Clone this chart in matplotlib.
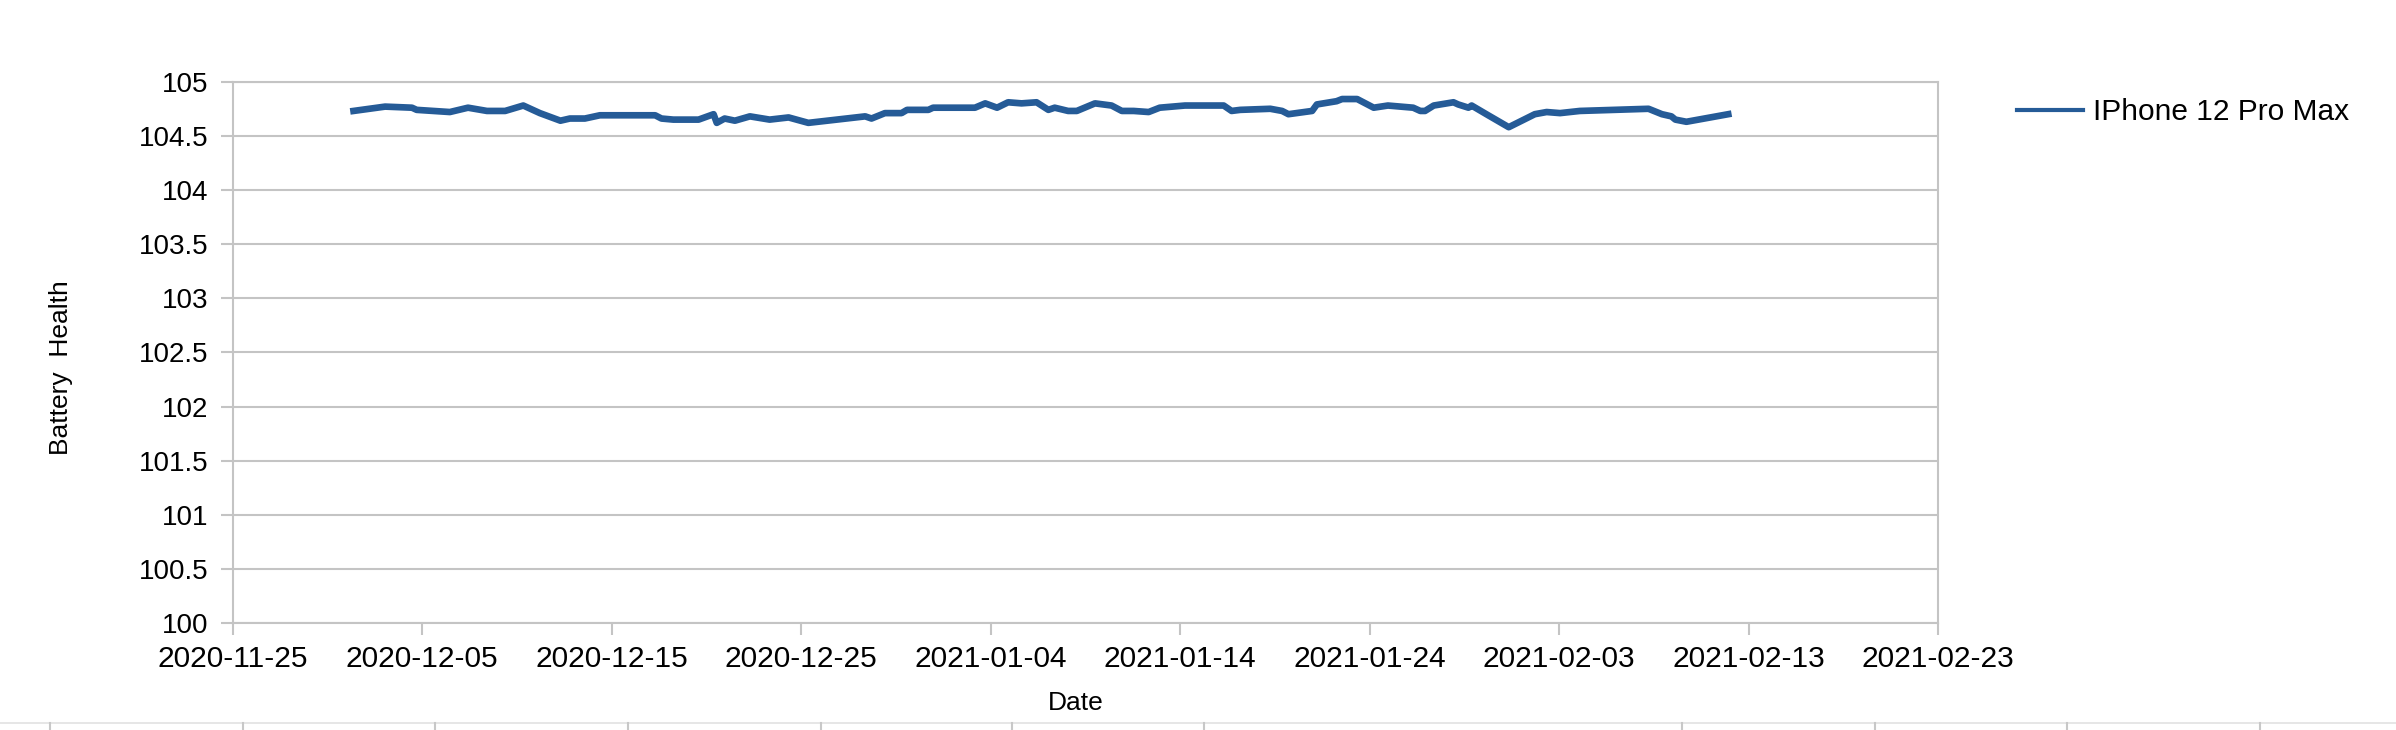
import matplotlib
matplotlib.use("Agg")
import matplotlib.pyplot as plt
import matplotlib.dates as mdates
from matplotlib.lines import Line2D
import pandas as pd

plt.rcParams['font.family'] = ['Liberation Sans', 'DejaVu Sans']

# readings of battery health
times = [
    "2020-12-01 09:00", "2020-12-03 01:00", "2020-12-04 11:00", "2020-12-04 17:00",
    "2020-12-06 11:00", "2020-12-07 10:00", "2020-12-08 10:00", "2020-12-09 09:00",
    "2020-12-10 08:00", "2020-12-11 05:00", "2020-12-12 07:00", "2020-12-12 19:00",
    "2020-12-13 14:00", "2020-12-14 09:00", "2020-12-17 07:00", "2020-12-17 15:00",
    "2020-12-18 06:00", "2020-12-19 14:00", "2020-12-20 09:00", "2020-12-20 13:00",
    "2020-12-20 23:00", "2020-12-21 12:00", "2020-12-22 07:00", "2020-12-23 08:00",
    "2020-12-24 08:00", "2020-12-25 09:00", "2020-12-28 09:00", "2020-12-28 17:00",
    "2020-12-29 10:00", "2020-12-30 07:00", "2020-12-30 14:00", "2020-12-31 17:00",
    "2020-12-31 23:00", "2021-01-03 04:00", "2021-01-03 17:00", "2021-01-04 08:00",
    "2021-01-04 22:00", "2021-01-05 15:00", "2021-01-06 10:00", "2021-01-07 01:00",
    "2021-01-07 09:00", "2021-01-08 02:00", "2021-01-08 13:00", "2021-01-09 12:00",
    "2021-01-10 09:00", "2021-01-10 22:00", "2021-01-11 13:00", "2021-01-12 08:00",
    "2021-01-12 22:00", "2021-01-14 06:00", "2021-01-16 07:00", "2021-01-16 17:00",
    "2021-01-17 04:00", "2021-01-18 18:00", "2021-01-19 09:00", "2021-01-19 17:00",
    "2021-01-20 23:00", "2021-01-21 05:00", "2021-01-22 06:00", "2021-01-22 13:00",
    "2021-01-23 08:00", "2021-01-24 05:00", "2021-01-24 23:00", "2021-01-26 07:00",
    "2021-01-26 16:00", "2021-01-26 22:00", "2021-01-27 09:00", "2021-01-28 10:00",
    "2021-01-28 16:00", "2021-01-29 05:00", "2021-01-29 09:00", "2021-01-30 06:00",
    "2021-01-31 08:00", "2021-02-01 17:00", "2021-02-02 08:00", "2021-02-03 01:00",
    "2021-02-04 02:00", "2021-02-07 17:00", "2021-02-08 10:00", "2021-02-08 22:00",
    "2021-02-09 03:00", "2021-02-09 17:00", "2021-02-11 22:00",
]
health = [
    104.73, 104.77, 104.76, 104.74, 104.72, 104.76, 104.73, 104.73,
    104.78, 104.71, 104.64, 104.66, 104.66, 104.69, 104.69, 104.66,
    104.65, 104.65, 104.70, 104.62, 104.66, 104.64, 104.68, 104.65,
    104.67, 104.62, 104.68, 104.66, 104.71, 104.71, 104.74, 104.74,
    104.76, 104.76, 104.80, 104.76, 104.81, 104.80, 104.81, 104.74,
    104.76, 104.73, 104.73, 104.80, 104.78, 104.73, 104.73, 104.72,
    104.76, 104.78, 104.78, 104.73, 104.74, 104.75, 104.73, 104.70,
    104.73, 104.79, 104.82, 104.84, 104.84, 104.76, 104.78, 104.76,
    104.73, 104.73, 104.78, 104.81, 104.79, 104.76, 104.78, 104.69,
    104.58, 104.70, 104.72, 104.71, 104.73, 104.75, 104.70, 104.68,
    104.65, 104.63, 104.70,
]
series_name = "IPhone 12 Pro Max"

x_ticks = pd.date_range("2020-11-25", periods=10, freq="10D")
y_ticks = [100, 100.5, 101, 101.5, 102, 102.5, 103, 103.5, 104, 104.5, 105]

W, H = 2396, 730
fig = plt.figure(figsize=(W / 100, H / 100), dpi=100)
ax = fig.add_axes([232.7 / W, 1 - 623.3 / H, (1938.3 - 232.7) / W, (623.3 - 81.7) / H])

grey = '#c4c4c4'
ax.plot(pd.to_datetime(times), health, color='#255b97', lw=4.8,
        solid_joinstyle='round', label=series_name, zorder=3)

ax.set_xlim(x_ticks[0], x_ticks[-1])
ax.set_ylim(100, 105)
ax.set_xticks(x_ticks)
ax.xaxis.set_major_formatter(mdates.DateFormatter('%Y-%m-%d'))
ax.set_yticks(y_ticks)
ax.set_yticklabels([f"{v:g}" for v in y_ticks])
ax.grid(axis='y', color=grey, lw=1.5)
ax.set_axisbelow(True)
for s in ax.spines.values():
    s.set_color(grey)
    s.set_linewidth(1.5)
ax.tick_params(axis='both', color=grey, width=1.5, length=8.6)
ax.tick_params(axis='y', pad=9, labelsize=20)
ax.tick_params(axis='x', pad=7, labelsize=21.5)

fig.text(61 / W, 1 - 368 / H, "Battery  Health", rotation=90, fontsize=19,
         ha='center', va='center')
fig.text(1076 / W, 1 - 703 / H, "Date", fontsize=19, ha='center', va='center')

leg = ax.legend(loc='center left', bbox_to_anchor=(2017 / W, 1 - 112 / H),
                bbox_transform=fig.transFigure, frameon=False, fontsize=21.5,
                borderpad=0, borderaxespad=0, handlelength=2.2, handletextpad=0.33)
leg.get_lines()[0].set_linewidth(3)

# spreadsheet strip at the bottom edge
fig.add_artist(Line2D([0, 1], [1 - 723 / H] * 2, transform=fig.transFigure,
                      color='#e2e2e2', lw=1.2))
for px in [50, 243, 435, 628, 821, 1012, 1204, 1682, 1875, 2067, 2260]:
    fig.add_artist(Line2D([px / W] * 2, [0, 1 - 723 / H], transform=fig.transFigure,
                          color='#c8c8c8', lw=1.5))

fig.savefig("out.png", dpi=100)
